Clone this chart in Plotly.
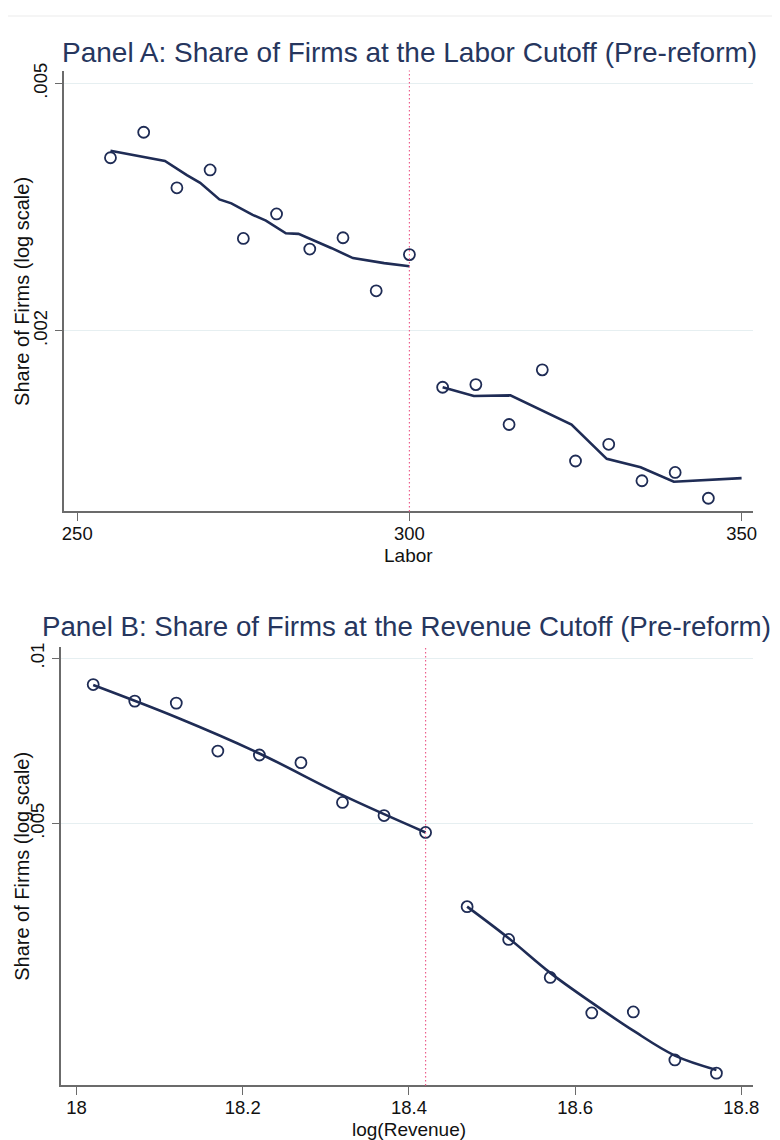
import plotly.graph_objects as go

# ---------------- data ----------------
# Panel A: labor bins (points) and smoothed fit
labor_left = [255, 260, 265, 270, 275, 280, 285, 290, 295, 300]
share_left = [0.003798, 0.004174, 0.003397, 0.003630, 0.002816, 0.003084, 0.002707, 0.002823, 0.002319, 0.002652]
labor_right = [305, 310, 315, 320, 325, 330, 335, 340, 345]
share_right = [0.001622, 0.001638, 0.001413, 0.001730, 0.001234, 0.001313, 0.001147, 0.001183, 0.001075]

fitA_left_x = [255, 263.2, 266.5, 268.5, 271.4, 273.2, 276.4, 278.4, 281.4, 283.3, 288.3, 291.5, 296.2, 300]
fitA_left_y = [0.003898, 0.003752, 0.003560, 0.003460, 0.003254, 0.003207, 0.003073, 0.003009, 0.002870,
               0.002864, 0.002716, 0.002618, 0.002570, 0.002540]
fitA_right_x = [305, 309.7, 315.2, 320.1, 324.4, 329.7, 334.8, 339.8, 350]
fitA_right_y = [0.001622, 0.001570, 0.001574, 0.001484, 0.001413, 0.001244, 0.001206, 0.001143, 0.001158]

# Panel B: log revenue bins and quadratic fit
rev_left = [18.02, 18.07, 18.12, 18.17, 18.22, 18.27, 18.32, 18.37, 18.42]
shareB_left = [0.008960, 0.008359, 0.008289, 0.006778, 0.006667, 0.006457, 0.005464, 0.005170, 0.004817]
rev_right = [18.47, 18.52, 18.57, 18.62, 18.67, 18.72, 18.77]
shareB_right = [0.003528, 0.003074, 0.002621, 0.002258, 0.002268, 0.001854, 0.001754]

fitB_left_x = [18.02, 18.12, 18.22, 18.32, 18.42]
fitB_left_y = [0.008941, 0.007810, 0.006710, 0.005633, 0.004817]
fitB_right_x = [18.47, 18.52, 18.57, 18.62, 18.67, 18.72, 18.77]
fitB_right_y = [0.003528, 0.003090, 0.002672, 0.002358, 0.002096, 0.001888, 0.001778]

cutoff_labor = 300
cutoff_rev = 18.42

xticksA = [250, 300, 350]
xticksB = [18, 18.2, 18.4, 18.6, 18.8]
xticktextB = ["18", "18.2", "18.4", "18.6", "18.8"]
yticksA = [0.002, 0.005]
yticktextA = [".002", ".005"]
yticksB = [0.005, 0.01]
yticktextB = [".005", ".01"]

# ---------------- style ----------------
NAVY = "#1f2c55"
TITLE = "#26365e"
AXIS = "#6b6b6b"
GRID = "#e6eff1"
CUT = "#ec5f8c"
FONT = "Liberation Sans, Arial, sans-serif"
OFF = 8                      # default page margin of the browser body
W, H = 780 - OFF, 1140 - OFF

fig = go.Figure()

def px_y(p):
    return 1 - (p - OFF) / H

def px_x(p):
    return (p - OFF) / W

def add_panel(pts, fits, xa, ya):
    for xs, ys in pts:
        fig.add_trace(go.Scatter(x=xs, y=ys, mode="markers", xaxis=xa, yaxis=ya,
                                 marker=dict(symbol="circle-open", size=11, color=NAVY,
                                             line=dict(width=1.8, color=NAVY)),
                                 showlegend=False, hoverinfo="skip"))
    for (xs, ys, shape) in fits:
        fig.add_trace(go.Scatter(x=xs, y=ys, mode="lines", xaxis=xa, yaxis=ya,
                                 line=dict(color=NAVY, width=2.6, shape=shape),
                                 showlegend=False, hoverinfo="skip"))

add_panel([(labor_left, share_left), (labor_right, share_right)],
          [(fitA_left_x, fitA_left_y, "linear"), (fitA_right_x, fitA_right_y, "linear")], "x", "y")
add_panel([(rev_left, shareB_left), (rev_right, shareB_right)],
          [(fitB_left_x, fitB_left_y, "spline"), (fitB_right_x, fitB_right_y, "spline")], "x2", "y2")

axis_common = dict(showline=True, linecolor=AXIS, linewidth=1.5, ticks="outside", ticklen=8,
                   tickcolor=AXIS, tickwidth=1, tickfont=dict(family=FONT, size=18.5, color="#111"),
                   zeroline=False, mirror=False)

fig.update_layout(
    width=W, height=H, margin=dict(l=0, r=0, t=0, b=0),
    paper_bgcolor="white", plot_bgcolor="white",
    font=dict(family=FONT, color="#111"),
    xaxis=dict(domain=[px_x(63), px_x(759)], range=[248.07, 351.75], anchor="y",
               tickvals=xticksA, showgrid=False, ticklabelstandoff=-3, **axis_common),
    yaxis=dict(domain=[px_y(507), px_y(63)], type="log", range=[-2.9899, -2.2802], anchor="x",
               tickvals=yticksA, ticktext=yticktextA, tickangle=-90,
               showgrid=True, gridcolor=GRID, gridwidth=1, **axis_common),
    xaxis2=dict(domain=[px_x(60), px_x(759)], range=[17.9818, 18.8143], anchor="y2",
                tickvals=xticksB, ticktext=xticktextB, showgrid=False, ticklabelstandoff=-3,
                **axis_common),
    yaxis2=dict(domain=[px_y(1085), px_y(643)], type="log", range=[-2.7783, -1.9783], anchor="x2",
                tickvals=yticksB, ticktext=yticktextB, tickangle=-90,
                showgrid=True, gridcolor=GRID, gridwidth=1, **axis_common),
)

# cutoff lines
fig.add_shape(type="line", xref="x", yref="y domain", x0=cutoff_labor, x1=cutoff_labor, y0=0, y1=1,
              line=dict(color=CUT, width=1.2, dash="1.5px,2.5px"))
fig.add_shape(type="line", xref="x2", yref="y2 domain", x0=cutoff_rev, x1=cutoff_rev, y0=0, y1=1,
              line=dict(color=CUT, width=1.2, dash="1.5px,2.5px"))
# faint top separator
fig.add_shape(type="line", xref="paper", yref="paper", x0=-0.02, x1=1, y0=px_y(8), y1=px_y(8),
              line=dict(color="#ebebeb", width=1))

# titles
fig.add_annotation(text="Panel A: Share of Firms at the Labor Cutoff (Pre-reform)", xref="paper", yref="paper",
                   x=px_x(412), y=px_y(45), xanchor="center", yanchor="middle", showarrow=False,
                   font=dict(family=FONT, size=28, color=TITLE))
fig.add_annotation(text="Panel B: Share of Firms at the Revenue Cutoff (Pre-reform)", xref="paper", yref="paper",
                   x=px_x(409), y=px_y(623), xanchor="center", yanchor="middle", showarrow=False,
                   font=dict(family=FONT, size=27.7, color=TITLE))
# x-axis titles
fig.add_annotation(text="Labor", xref="paper", yref="paper", x=px_x(411), y=px_y(551),
                   xanchor="center", yanchor="middle", showarrow=False,
                   font=dict(family=FONT, size=19, color="#111"))
fig.add_annotation(text="log(Revenue)", xref="paper", yref="paper", x=px_x(411), y=px_y(1129),
                   xanchor="center", yanchor="middle", showarrow=False,
                   font=dict(family=FONT, size=19, color="#111"))
# y-axis titles
for yc in [(63 + 507) / 2, (643 + 1085) / 2]:
    fig.add_annotation(text="Share of Firms (log scale)", xref="paper", yref="paper",
                       x=px_x(20), y=px_y(yc), xanchor="center", yanchor="middle", textangle=-90,
                       showarrow=False, font=dict(family=FONT, size=20, color="#111"))

fig.write_html("out.html")
